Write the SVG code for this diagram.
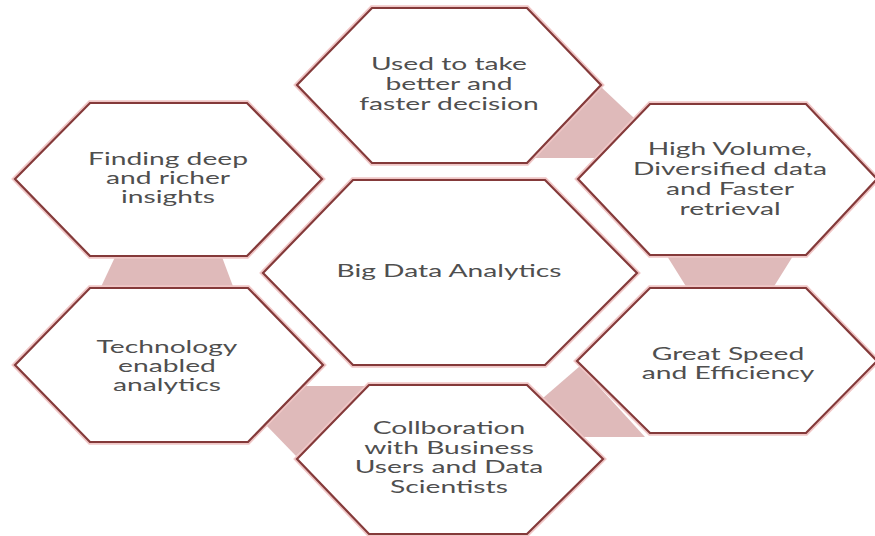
<svg xmlns="http://www.w3.org/2000/svg" width="875" height="536" viewBox="0 0 875 536">
  <style>
    .hex { fill: #ffffff; stroke: #843a3a; stroke-width: 2.2; stroke-linejoin: miter; }
    .halo { fill: none; stroke: #f0c6c6; stroke-width: 5.5; stroke-linejoin: miter; }
    .link { fill: #dfbaba; stroke: none; }
    .t { font-family: Lato, "Liberation Sans", sans-serif; font-size: 17px; fill: #4f4f4f; text-anchor: middle; }
  </style>
  <defs>
    <!-- shared hexagon outlines -->
    <polygon id="hTop" points="297,85 372,8 527,8 601,85 527,163 372,163"/>
    <polygon id="hFind" points="15,179 90,103 247,103 322,179 247,256 90,256"/>
    <polygon id="hHigh" points="578,179 650,104 806,104 877,179 806,255 650,255"/>
    <polygon id="hBig" points="263,273 353,180 545,180 637,273 545,365 353,365"/>
    <polygon id="hTech" points="15,365 90,288 248,288 323,365 248,442 90,442"/>
    <polygon id="hSpeed" points="577,361 650,288 806,288 877,361 806,433 650,433"/>
    <polygon id="hCollab" points="297,459 369,385 527,385 603,459 527,534 369,534"/>
  </defs>
  <rect width="875" height="536" fill="#ffffff"/>

  <!-- pink bands linking neighbouring hexagons -->
  <g id="connectors">
    <polygon class="link" points="115,257 222,257 234,289 100,289"/>
    <polygon class="link" points="600,86 634,118 596,158 530,158"/>
    <polygon class="link" points="667,256 793,256 773,288 687,288"/>
    <polygon class="link" points="543,398 580,366 645,437 582,437"/>
    <polygon class="link" points="300,386 372,386 296,456 265,424"/>
  </g>

  <g id="node-decision">
    <use href="#hTop" class="halo"/><use href="#hTop" class="hex"/>
    <g transform="translate(449,0) scale(1.66,1)">
      <text class="t" x="0" y="70">Used to take</text>
      <text class="t" x="0" y="90">better and</text>
      <text class="t" x="0" y="110">faster decision</text>
    </g>
  </g>

  <g id="node-insights">
    <use href="#hFind" class="halo"/><use href="#hFind" class="hex"/>
    <g transform="translate(168,0) scale(1.66,1)">
      <text class="t" x="0" y="165">Finding deep</text>
      <text class="t" x="0" y="184">and richer</text>
      <text class="t" x="0" y="203">insights</text>
    </g>
  </g>

  <g id="node-volume">
    <use href="#hHigh" class="halo"/><use href="#hHigh" class="hex"/>
    <g transform="translate(730,0) scale(1.66,1)">
      <text class="t" x="0" y="155">High Volume,</text>
      <text class="t" x="0" y="175">Diversified data</text>
      <text class="t" x="0" y="195">and Faster</text>
      <text class="t" x="0" y="215">retrieval</text>
    </g>
  </g>

  <g id="node-center">
    <use href="#hBig" class="halo"/><use href="#hBig" class="hex"/>
    <g transform="translate(449,0) scale(1.66,1)">
      <text class="t" x="0" y="277">Big Data Analytics</text>
    </g>
  </g>

  <g id="node-technology">
    <use href="#hTech" class="halo"/><use href="#hTech" class="hex"/>
    <g transform="translate(167,0) scale(1.66,1)">
      <text class="t" x="0" y="353">Technology</text>
      <text class="t" x="0" y="372">enabled</text>
      <text class="t" x="0" y="391">analytics</text>
    </g>
  </g>

  <g id="node-speed">
    <use href="#hSpeed" class="halo"/><use href="#hSpeed" class="hex"/>
    <g transform="translate(728,0) scale(1.66,1)">
      <text class="t" x="0" y="360">Great Speed</text>
      <text class="t" x="0" y="379">and Efficiency</text>
    </g>
  </g>

  <g id="node-collaboration">
    <use href="#hCollab" class="halo"/><use href="#hCollab" class="hex"/>
    <g transform="translate(449,0) scale(1.66,1)">
      <text class="t" x="0" y="434">Collboration</text>
      <text class="t" x="0" y="454">with Business</text>
      <text class="t" x="0" y="473">Users and Data</text>
      <text class="t" x="0" y="493">Scientists</text>
    </g>
  </g>
</svg>
